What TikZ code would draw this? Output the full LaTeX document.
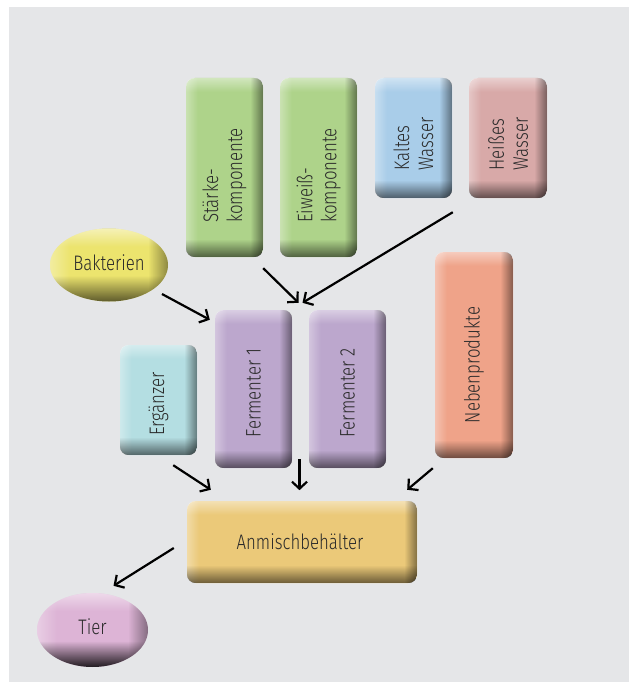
\documentclass[tikz,border=0pt]{standalone}
\usepackage{fontspec}
\IfFontExistsTF{Fira Sans Light}
  {\setmainfont{Fira Sans Light}[FakeStretch=0.8]}
  {\setmainfont{Fira Sans}[FakeStretch=0.8]}
\usetikzlibrary{arrows.meta,calc,fadings,shapes.geometric}

\definecolor{bg}{HTML}{E5E6E8}
\definecolor{cgreen}{HTML}{AED38A}
\definecolor{cblue}{HTML}{A9CDE9}
\definecolor{chot}{HTML}{D8A9A8}
\definecolor{cyellow}{HTML}{ECE46E}
\definecolor{cpurple}{HTML}{BCA7CD}
\definecolor{cteal}{HTML}{B4DEE2}
\definecolor{csalmon}{HTML}{EFA389}
\definecolor{cgold}{HTML}{EBC979}
\definecolor{cpink}{HTML}{DDB4D6}
\definecolor{ink}{HTML}{2A2A2A}

% soft masks for the bevel bands
\tikzfading[name=fadeS, top color=transparent!100, bottom color=transparent!0]
\tikzfading[name=fadeN, top color=transparent!0, bottom color=transparent!100]
\tikzfading[name=fadeE, left color=transparent!100, right color=transparent!0]
\tikzfading[name=fadeW, left color=transparent!0, right color=transparent!100]

\tikzset{
  panel/.style={rectangle, rounded corners=9pt, inner sep=0pt},
  blob/.style={ellipse, inner sep=0pt},
  lbl/.style={font=\fontsize{21}{24}\selectfont, text=ink, align=left, inner sep=0pt},
  arr/.style={-{Straight Barb[length=7pt,width=15pt]}, line width=2.2pt, black},
}

% bevelled rounded box: name, colour, centre, width, height
\newcommand\bevelbox[5]{%
  \node[panel, fill=#2, minimum width=#4pt, minimum height=#5pt] (#1) at (#3) {};
  \begin{scope}
    \clip[rounded corners=9pt] (#1.south west) rectangle (#1.north east);
    \fill[white, opacity=.45, path fading=fadeN] (#1.north west) rectangle ($(#1.north east)+(0,14)$);
    \fill[white, opacity=.35, path fading=fadeW] (#1.north west) rectangle ($(#1.south west)+(12,0)$);
    \fill[black, opacity=.45, path fading=fadeE] ($(#1.north east)+(-13,0)$) rectangle (#1.south east);
    \fill[black, opacity=.55, path fading=fadeS] ($(#1.south west)+(0,-18)$) rectangle (#1.south east);
  \end{scope}}

% bevelled ellipse: name, colour, centre, half width, half height, depth of shade
\newcommand\bevelblob[6]{%
  \node[blob, fill=#2, minimum width=2*#4pt, minimum height=2*#5pt] (#1) at (#3) {};
  \begin{scope}
    \clip (#1.center) ellipse [x radius=#4pt, y radius=#5pt];
    \fill[white, opacity=.5, path fading=fadeN]
      ($(#1.center)+(-#4,-#5)$) rectangle ($(#1.center)+(#4,-#5+18)$);
    \fill[white, opacity=.35, path fading=fadeW]
      ($(#1.center)+(-#4,-#5)$) rectangle ($(#1.center)+(-#4+20,#5)$);
    \fill[black, opacity=.4, path fading=fadeE]
      ($(#1.center)+(#4-20,-#5)$) rectangle ($(#1.center)+(#4,#5)$);
    \fill[black, opacity=#6, path fading=fadeS]
      ($(#1.center)+(-#4,#5-26)$) rectangle ($(#1.center)+(#4,#5)$);
  \end{scope}}

\begin{document}
\begin{tikzpicture}[x=1pt, y=-1pt]
  \useasboundingbox (0,0) rectangle (629,682);
  \fill[white] (0,0) rectangle (629,682);
  \fill[bg] (9,7) rectangle (629,682);

  % inputs
  \bevelbox{staerke}{cgreen}{224.5,167.5}{77}{179}
  \bevelbox{eiweiss}{cgreen}{318.5,167.5}{77}{179}
  \bevelbox{kalt}{cblue}{413.5,138}{77}{120}
  \bevelbox{heiss}{chot}{508,138}{78}{120}
  \bevelblob{bakt}{cyellow}{109,265}{59}{36.5}{.6}

  % fermentation stage
  \bevelbox{ferm1}{cpurple}{253.5,389}{77}{158}
  \bevelbox{ferm2}{cpurple}{347.5,389}{77}{158}
  \bevelbox{erg}{cteal}{158.5,400}{77}{110}
  \bevelbox{neben}{csalmon}{474,355}{78}{206}

  % mixing and output
  \bevelbox{anm}{cgold}{302,542}{230}{82}
  \bevelblob{tier}{cpink}{92.5,630}{55.5}{37}{.85}

  % labels
  \node[lbl, rotate=90] at ($(staerke)+(0,8)$) {Stärke-\\komponente};
  \node[lbl, rotate=90] at ($(eiweiss)+(0,8)$) {Eiweiß-\\komponente};
  \node[lbl, rotate=90] at ($(kalt)+(0,6)$) {Kaltes\\Wasser};
  \node[lbl, rotate=90] at ($(heiss)+(0,6)$) {Heißes\\Wasser};
  \node[lbl] at ($(bakt)+(0,-2)$) {Bakterien};
  \node[lbl, rotate=90] at ($(ferm1)+(0,4)$) {Fermenter 1};
  \node[lbl, rotate=90] at ($(ferm2)+(0,4)$) {Fermenter 2};
  \node[lbl, rotate=90] at ($(erg)+(0,4)$) {Ergänzer};
  \node[lbl, rotate=90] at ($(neben)+(0,10)$) {Nebenprodukte};
  \node[lbl] at ($(anm)+(-2,0)$) {Anmischbehälter};
  \node[lbl] at ($(tier)+(0,-3)$) {Tier};

  % connectors
  \coordinate (gap) at ($(ferm1.north east)!0.5!(ferm2.north west)$);
  \coordinate (gapS) at ($(ferm1.south east)!0.5!(ferm2.south west)$);
  \draw[arr] ($(staerke.south east)+(0,11)$) -- ($(gap)+(-2,-7)$);
  \draw[arr] ($(heiss.south west)+(-16,14)$) -- ($(gap)+(2,-7)$);
  \draw[arr] ($(bakt.center)+(53,29)$) -- ($(ferm1.north west)+(-5,10)$);
  \draw[arr] ($(erg.south east)+(-24,10)$) -- ($(anm.north west)+(24,-11)$);
  \draw[arr] ($(gapS)+(-1,-9)$) -- ($(gapS)+(-1,22)$);
  \draw[arr] ($(neben.south west)+(-2,10)$) -- ($(anm.north east)+(-10,-11)$);
  \draw[arr] ($(anm.west)+(-13,6)$) -- ($(tier.north)+(21,-7)$);
\end{tikzpicture}
\end{document}
